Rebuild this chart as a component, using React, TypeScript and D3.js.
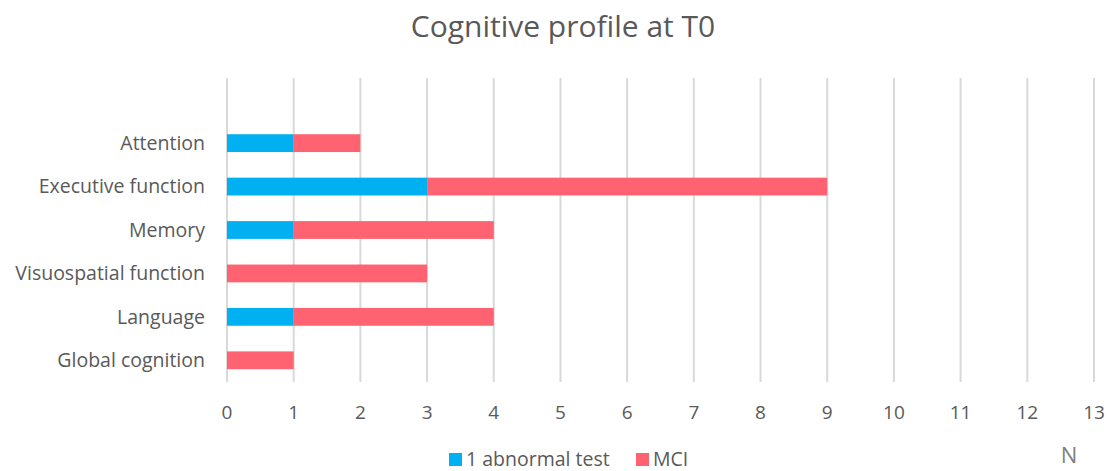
import React from 'react';
import * as d3 from 'd3';

const categories = ['Attention', 'Executive function', 'Memory', 'Visuospatial function', 'Language', 'Global cognition'];
const abnormalTest = [1, 3, 1, 0, 1, 0];
const mci = [1, 6, 3, 3, 3, 1];
const xTicks = d3.range(0, 14);

const seriesNames = ['1 abnormal test', 'MCI'];
const seriesColors = ['#00B0F0', '#FF6371'];

export default function App() {
  const width = 1109;
  const height = 471;
  const font = "'Open Sans', sans-serif";
  const textColor = '#595959';

  const x = d3.scaleLinear().domain([0, 13]).range([227, 1094]);
  // blank slot on top, like the original
  const y = d3.scaleBand<string>()
    .domain(['', ...categories])
    .range([78, 382])
    .paddingInner(0.59)
    .paddingOuter(0.295);

  const stacked = categories.map((c, i) => ({
    cat: c,
    segs: [
      { x0: 0, x1: abnormalTest[i], color: seriesColors[0] },
      { x0: abnormalTest[i], x1: abnormalTest[i] + mci[i], color: seriesColors[1] },
    ],
  }));

  return (
    <svg width={width} height={height} style={{ position: 'absolute', left: 0, top: 0 }} fontFamily={font}>
      <rect width={width} height={height} fill="#fff" />
      <text x={563} y={37} textAnchor="middle" fontSize={30} fill={textColor}>Cognitive profile at T0</text>
      {xTicks.map(t => (
        <g key={t}>
          <line x1={x(t)} x2={x(t)} y1={78} y2={382} stroke="#D9D9D9" strokeWidth={2} />
          <text x={x(t)} y={419} textAnchor="middle" fontSize={19} fill={textColor}>{t}</text>
        </g>
      ))}
      {stacked.map(d => (
        <g key={d.cat}>
          {d.segs.filter(s => s.x1 > s.x0).map((s, j) => (
            <rect key={j} x={x(s.x0)} y={y(d.cat)!} width={x(s.x1) - x(s.x0)} height={y.bandwidth()} fill={s.color} />
          ))}
          <text x={205} y={y(d.cat)! + y.bandwidth() / 2} dy="0.35em" textAnchor="end" fontSize={19.5} fill={textColor}>{d.cat}</text>
        </g>
      ))}
      <g>
        <rect x={449} y={453} width={13} height={13} fill={seriesColors[0]} />
        <text x={466} y={466} fontSize={19.5} fill={textColor}>{seriesNames[0]}</text>
        <rect x={636} y={453} width={13} height={13} fill={seriesColors[1]} />
        <text x={653} y={466} fontSize={19.5} fill={textColor}>{seriesNames[1]}</text>
      </g>
      <text x={1069} y={463} textAnchor="middle" fontSize={22} fill="#7F7F7F">N</text>
    </svg>
  );
}
